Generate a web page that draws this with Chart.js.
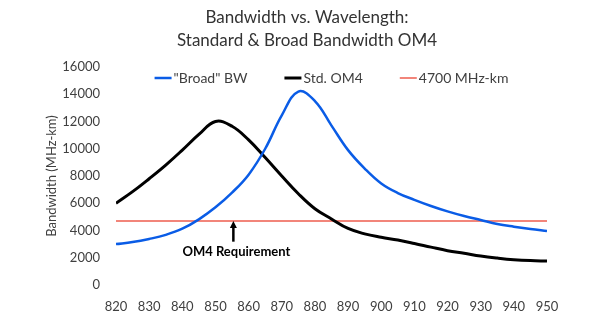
<!DOCTYPE html>
<html>
<head>
<meta charset="utf-8">
<script src="https://cdn.jsdelivr.net/npm/chart.js@4.4.0/dist/chart.umd.min.js"></script>
<style>
  html, body { margin: 0; padding: 0; background: #ffffff; }
  #wrap { width: 598px; height: 321px; }
</style>
</head>
<body>
<div id="wrap"><canvas id="chart" width="598" height="321"></canvas></div>
<script>
// Wavelength samples (nm)
const wavelengths = [820, 825, 830, 835, 840, 845, 850, 855, 860, 865, 870, 875, 880, 885,
                     890, 895, 900, 905, 910, 915, 920, 925, 930, 935, 940, 945, 950];
// Effective modal bandwidth (MHz-km)
const broadBW = [3000, 3150, 3380, 3680, 4130, 4820, 5700, 6780, 8100, 10000, 12450, 14200, 13500, 11700,
                 9900, 8550, 7450, 6750, 6250, 5800, 5400, 5060, 4770, 4480, 4280, 4110, 3960];
const stdOM4 = [6000, 6850, 7800, 8800, 9900, 11050, 12000, 11650, 10650, 9350, 8000, 6700, 5600, 4850,
                4150, 3750, 3500, 3300, 3050, 2780, 2520, 2330, 2130, 1980, 1860, 1790, 1760];
const requirementLevel = 4700;
const requirementSpan = [820, 950];

const xTicks = [820, 830, 840, 850, 860, 870, 880, 890, 900, 910, 920, 930, 940, 950];
const yTicks = [0, 2000, 4000, 6000, 8000, 10000, 12000, 14000, 16000];

const titleLines = ['Bandwidth vs. Wavelength:', 'Standard & Broad Bandwidth OM4'];
const seriesLabels = ['"Broad" BW', 'Std. OM4', '4700 MHz-km'];
const yAxisTitle = 'Bandwidth (MHz-km)';
const noteText = 'OM4 Requirement';
// Arrow pointing at the requirement line: wavelength, shaft start, tip (MHz-km)
const noteArrow = [855.4, 3180, 4700];
// Note label anchor: wavelength, bandwidth
const noteAnchor = [856.3, 2440];

const FONT = 'Lato, "Open Sans", sans-serif';
const TEXT = '#404040';
const colors = ['#0a5ce6', '#000000', '#f2857a'];

const toPoints = (xs, ys) => xs.map((x, i) => ({ x: x, y: ys[i] }));

// Chart heading, legend row and the requirement note
const decorations = {
  id: 'decorations',
  afterDraw(chart) {
    const ctx = chart.ctx;
    const area = chart.chartArea;
    const xs = chart.scales.x, ys = chart.scales.y;
    ctx.save();

    // heading
    ctx.fillStyle = '#333333';
    ctx.font = '17px ' + FONT;
    ctx.textAlign = 'center';
    ctx.textBaseline = 'middle';
    ctx.fillText(titleLines[0], 307, 18);
    ctx.fillText(titleLines[1], 307, 41);

    // legend row inside the plot, centred over it
    ctx.font = '14px ' + FONT;
    ctx.textAlign = 'left';
    const sample = 17, gapText = 2, gapItem = 37;
    const widths = seriesLabels.map(t => sample + gapText + ctx.measureText(t).width);
    const total = widths.reduce((a, b) => a + b, 0) + gapItem * (widths.length - 1);
    let lx = (area.left + area.right) / 2 - total / 2;
    const ly = area.top + 11;
    chart.data.datasets.forEach((ds, i) => {
      ctx.strokeStyle = ds.borderColor;
      ctx.lineWidth = ds.borderWidth;
      ctx.beginPath();
      ctx.moveTo(lx, ly);
      ctx.lineTo(lx + sample, ly);
      ctx.stroke();
      ctx.fillStyle = TEXT;
      ctx.fillText(ds.label, lx + sample + gapText, ly + 0.5);
      lx += widths[i] + gapItem;
    });

    // requirement note with arrow
    const ax = xs.getPixelForValue(noteArrow[0]);
    const yBase = ys.getPixelForValue(noteArrow[1]);
    const yTip = ys.getPixelForValue(noteArrow[2]);
    ctx.strokeStyle = '#000000';
    ctx.fillStyle = '#000000';
    ctx.lineWidth = 2.5;
    ctx.beginPath();
    ctx.moveTo(ax, yBase);
    ctx.lineTo(ax, yTip + 5);
    ctx.stroke();
    ctx.beginPath();
    ctx.moveTo(ax, yTip);
    ctx.lineTo(ax - 3.5, yTip + 7);
    ctx.lineTo(ax + 3.5, yTip + 7);
    ctx.closePath();
    ctx.fill();

    ctx.font = 'bold 13px ' + FONT;
    ctx.textAlign = 'center';
    ctx.fillText(noteText, xs.getPixelForValue(noteAnchor[0]), ys.getPixelForValue(noteAnchor[1]));
    ctx.restore();
  }
};

new Chart(document.getElementById('chart'), {
  type: 'line',
  data: {
    datasets: [
      { label: seriesLabels[0], data: toPoints(wavelengths, broadBW),
        borderColor: colors[0], borderWidth: 2.5, tension: 0.4 },
      { label: seriesLabels[1], data: toPoints(wavelengths, stdOM4),
        borderColor: colors[1], borderWidth: 3, tension: 0.4 },
      { label: seriesLabels[2], data: toPoints(requirementSpan, requirementSpan.map(() => requirementLevel)),
        borderColor: colors[2], borderWidth: 2 }
    ]
  },
  options: {
    responsive: false,
    animation: false,
    devicePixelRatio: 1,
    layout: { padding: { top: 67, left: 40, right: 51, bottom: 0 } },
    elements: { point: { radius: 0, hoverRadius: 0 }, line: { borderCapStyle: 'butt' } },
    plugins: {
      legend: { display: false },
      title: { display: false },
      tooltip: { enabled: false }
    },
    scales: {
      x: {
        type: 'linear',
        min: 820, max: 950,
        grid: { display: false, drawTicks: false },
        border: { display: false },
        afterBuildTicks: s => { s.ticks = xTicks.map(v => ({ value: v })); },
        afterFit: s => { s.height = 36; },
        ticks: { color: TEXT, font: { family: FONT, size: 13 }, padding: 14, maxRotation: 0,
                 autoSkip: false, callback: v => String(v) }
      },
      y: {
        min: 0, max: 16000,
        grid: { display: false, drawTicks: false },
        border: { display: false },
        afterBuildTicks: s => { s.ticks = yTicks.map(v => ({ value: v })); },
        afterFit: s => { s.width = 76; },
        ticks: { color: TEXT, font: { family: FONT, size: 13 }, padding: 16, callback: v => String(v) },
        title: { display: true, text: yAxisTitle, color: TEXT,
                 font: { family: FONT, size: 13 }, padding: { top: 4, bottom: 4 } }
      }
    }
  },
  plugins: [decorations]
});
</script>
</body>
</html>
